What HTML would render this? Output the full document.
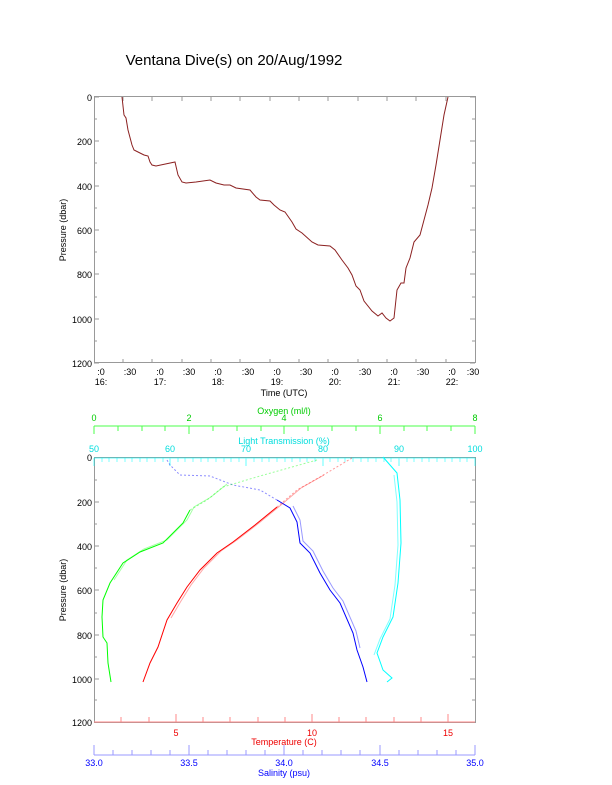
<!DOCTYPE html>
<html><head><meta charset="utf-8"><style>body{margin:0;background:#fff}svg{display:block}text{font-family:"Liberation Sans",sans-serif}</style></head><body>
<svg width="612" height="785" viewBox="0 0 612 785" xmlns="http://www.w3.org/2000/svg">
<text x="234" y="65" font-size="15" text-anchor="middle">Ventana Dive(s) on 20/Aug/1992</text>
<g stroke="#999" fill="none" stroke-width="1">
<rect x="94.5" y="96.5" width="381" height="266"/>
<path d="M94 97h5M94 141h5M94 186h5M94 230h5M94 274h5M94 319h5M94 363h5M94 119h3M94 163h3M94 208h3M94 252h3M94 297h3M94 341h3M475 97h-5M475 141h-5M475 186h-5M475 230h-5M475 274h-5M475 319h-5M475 363h-5M475 119h-3M475 163h-3M475 208h-3M475 252h-3M475 297h-3M475 341h-3"/>
<path d="M123 363v-4M152 363v-4M182 363v-4M211 363v-4M240 363v-4M270 363v-4M299 363v-4M328 363v-4M358 363v-4M387 363v-4M416 363v-4M446 363v-4M123 97v4M152 97v4M182 97v4M211 97v4M240 97v4M270 97v4M299 97v4M328 97v4M358 97v4M387 97v4M416 97v4M446 97v4"/>
</g>
<g font-size="9" text-anchor="end"><text x="92" y="101">0</text><text x="92" y="145">200</text><text x="92" y="190">400</text><text x="92" y="234">600</text><text x="92" y="278">800</text><text x="92" y="323">1000</text><text x="92" y="367">1200</text></g>
<g font-size="9" text-anchor="middle">
<text x="101" y="375">:0</text><text x="130" y="375">:30</text><text x="160" y="375">:0</text><text x="189" y="375">:30</text><text x="218" y="375">:0</text><text x="248" y="375">:30</text><text x="277" y="375">:0</text><text x="306" y="375">:30</text><text x="335" y="375">:0</text><text x="365" y="375">:30</text><text x="394" y="375">:0</text><text x="423" y="375">:30</text><text x="452" y="375">:0</text><text x="473" y="375">:30</text>
<text x="101" y="385">16:</text><text x="160" y="385">17:</text><text x="218" y="385">18:</text><text x="277" y="385">19:</text><text x="335" y="385">20:</text><text x="394" y="385">21:</text><text x="452" y="385">22:</text>
<text x="284" y="396">Time (UTC)</text></g>
<text transform="translate(66 230) rotate(-90)" font-size="9" text-anchor="middle">Pressure (dbar)</text>
<polyline fill="none" stroke="#8b2020" stroke-width="1" points="122,97 124,115 126,118 128,130 132,145 134,150 140,153 144,155 148,156 150,162 152,165 156,166 175,162 178,175 182,182 186,183 196,182 210,180 216,183 224,185 230,185 236,188 250,190 256,197 260,200 270,201 274,205 280,210 285,212 292,222 296,229 302,233 312,242 318,245 330,246 335,250 342,260 348,268 352,275 356,286 360,290 364,301 372,311 378,316 382,313 386,318 390,321 394,318 397,290 401,283 404,283 406,268 410,258 414,242 420,235 424,220 428,205 432,188 436,165 440,140 444,115 448,97"/>
<g stroke="#999" fill="none"><rect x="94.5" y="457.5" width="381" height="265"/>
<path d="M94 502h5M94 546h5M94 590h5M94 635h5M94 679h5M94 722h5M94 480h3M94 524h3M94 568h3M94 613h3M94 657h3M94 700h3M475 502h-5M475 546h-5M475 590h-5M475 635h-5M475 679h-5M475 480h-3M475 524h-3M475 568h-3M475 613h-3M475 657h-3M475 700h-3"/></g>
<g font-size="9" text-anchor="end"><text x="92" y="461">0</text><text x="92" y="506">200</text><text x="92" y="550">400</text><text x="92" y="594">600</text><text x="92" y="639">800</text><text x="92" y="683">1000</text><text x="92" y="726">1200</text></g>
<text transform="translate(66 590) rotate(-90)" font-size="9" text-anchor="middle">Pressure (dbar)</text>
<g stroke="#0f0" opacity="0.7"><path d="M94 426h381M94 426v8M189 426v8M284 426v8M380 426v8M475 426v8M118 426v5M142 426v5M165 426v5M213 426v5M237 426v5M261 426v5M308 426v5M332 426v5M356 426v5M404 426v5M427 426v5M451 426v5"/></g>
<g fill="#0c0" font-size="9" text-anchor="middle"><text x="94" y="421">0</text><text x="189" y="421">2</text><text x="284" y="421">4</text><text x="380" y="421">6</text><text x="475" y="421">8</text><text x="284" y="414">Oxygen (ml/l)</text></g>
<g stroke="#0ff" opacity="0.6" fill="none"><path d="M94 458h381"/><path d="M94 458v8M170 458v8M246 458v8M323 458v8M399 458v8M475 458v8"/></g>
<g stroke="#0ff" opacity="0.5"><path d="M102 458v4M109 458v4M117 458v4M125 458v4M132 458v4M140 458v4M147 458v4M155 458v4M163 458v4M178 458v4M185 458v4M193 458v4M201 458v4M208 458v4M216 458v4M224 458v4M231 458v4M239 458v4M254 458v4M262 458v4M269 458v4M277 458v4M285 458v4M292 458v4M300 458v4M307 458v4M315 458v4M330 458v4M338 458v4M345 458v4M353 458v4M361 458v4M368 458v4M376 458v4M384 458v4M391 458v4M407 458v4M414 458v4M422 458v4M429 458v4M437 458v4M445 458v4M452 458v4M460 458v4M467 458v4"/></g>
<g fill="#0dd" font-size="9" text-anchor="middle"><text x="94" y="452">50</text><text x="170" y="452">60</text><text x="246" y="452">70</text><text x="323" y="452">80</text><text x="399" y="452">90</text><text x="475" y="452">100</text><text x="284" y="444">Light Transmission (%)</text></g>
<g stroke="#f88"><path d="M94 722h381M176 722v-8M312 722v-8M448 722v-8M121 722v-5M149 722v-5M203 722v-5M230 722v-5M258 722v-5M285 722v-5M339 722v-5M366 722v-5M394 722v-5M421 722v-5"/></g>
<g fill="#e00" font-size="9" text-anchor="middle"><text x="176" y="736">5</text><text x="312" y="736">10</text><text x="448" y="736">15</text><text x="284" y="745">Temperature (C)</text></g>
<g stroke="#99f"><path d="M94 755h381M94 755v-10M189 755v-10M284 755v-10M380 755v-10M475 755v-10M113 755v-5M132 755v-5M151 755v-5M170 755v-5M208 755v-5M227 755v-5M246 755v-5M265 755v-5M303 755v-5M322 755v-5M341 755v-5M360 755v-5M399 755v-5M418 755v-5M437 755v-5M456 755v-5"/></g>
<g fill="#00f" font-size="9" text-anchor="middle"><text x="94" y="766">33.0</text><text x="189" y="766">33.5</text><text x="284" y="766">34.0</text><text x="380" y="766">34.5</text><text x="475" y="766">35.0</text><text x="284" y="776">Salinity (psu)</text></g>
<g fill="none" stroke-width="1">
<polyline stroke="#00f" opacity="0.45" stroke-dasharray="2 2" points="167,460 170,465 180,475 210,476 233,485 260,490 277,500"/>
<polyline stroke="#00f" points="277,500 290,508 297,522 300,543 310,553 320,573 330,590 340,603 353,633 357,650 363,667 367,682"/>
<polyline stroke="#00f" opacity="0.4" transform="translate(3,-2)" points="290,508 297,522 300,543 310,553 320,573 330,590 340,603 353,633 357,650"/>
<polyline stroke="#f00" opacity="0.4" stroke-dasharray="2 2" points="352,458 320,477 297,490 277,507"/>
<polyline stroke="#f00" points="277,507 255,525 233,542 217,553 200,570 187,587 177,603 167,620 158,647 150,663 143,682"/>
<polyline stroke="#f00" opacity="0.35" transform="translate(4,-2)" points="320,477 297,490 277,507 255,525 233,542 217,553 200,570 187,587 177,603 167,620"/>
<polyline stroke="#0f0" opacity="0.4" stroke-dasharray="2 2" points="317,460 260,476 223,487 207,500 190,510"/>
<polyline stroke="#0f0" points="190,510 183,523 163,543 140,552 123,563 110,583 103,600 102,617 103,637 107,643 108,663 111,682"/>
<polyline stroke="#0f0" opacity="0.35" transform="translate(4,-3)" points="223,487 207,500 190,510 183,523 163,543 140,552 123,563 110,583"/>
<polyline stroke="#0ff" points="383,457 397,473 400,500 401,543 398,583 393,617 383,637 377,653 383,670 392,678 387,682"/>
<polyline stroke="#0ff" opacity="0.5" transform="translate(-3,2)" points="397,473 400,500 401,543 398,583 393,617 383,637 377,653"/>
</g>
</svg>
</body></html>
